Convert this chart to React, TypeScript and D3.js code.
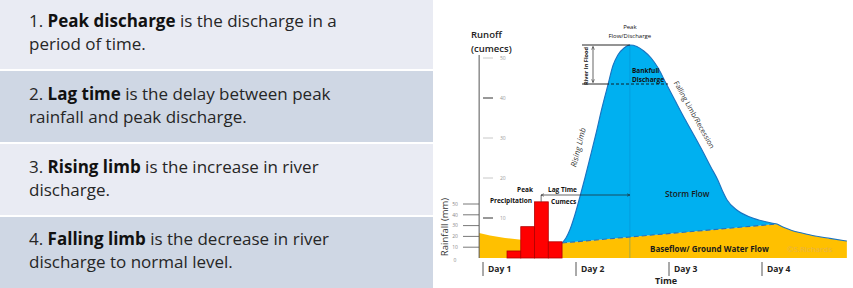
import React from 'react';
import * as d3 from 'd3';

// left panel definitions
const defNumbers = ['1.', '2.', '3.', '4.'];
const defTerms = ['Peak discharge', 'Lag time', 'Rising limb', 'Falling limb'];
const defFirstLine = [' is the discharge in a', ' is the delay between peak', ' is the increase in river', ' is the decrease in river'];
const defSecondLine = ['period of time.', 'rainfall and peak discharge.', 'discharge.', 'discharge to normal level.'];

// hydrograph data (time in hours from start of Day 1, runoff in cumecs)
const dayTicks = [0, 24, 48, 72];
const dayLabels = ['Day 1', 'Day 2', 'Day 3', 'Day 4'];
const runoffTicks = [10, 20, 30, 40, 50];
const rainTicks = [0, 10, 20, 30, 40, 50];

const rainPeriods = ['p1', 'p2', 'p3', 'p4'];
const rainMm = [6.5, 29, 52, 15];

const baseflowHours = [-1, 1.8, 5.7, 9.3, 14.7, 20.4, 75.9, 77.7, 79.7, 82.3, 85.7, 89.5, 93.9];
const baseflowCumecs = [6.25, 5.6, 5.0, 4.6, 4.1, 3.75, 8.5, 7.6, 6.9, 6.25, 5.5, 4.9, 4.25];

const stormHours = [20.4, 21.4, 22.5, 23.7, 25.0, 26.3, 27.6, 29.2, 30.7, 32.3, 33.5, 34.8, 36.4, 37.9, 39.7, 41.5, 43.4, 45.2, 47.2, 49.5, 52.1, 54.7, 56.8, 58.8, 60.6, 61.7, 63.0, 65.5, 68.9, 73.3, 75.9];
const stormCumecs = [3.75, 5.0, 7.25, 10.75, 15.25, 20, 25, 31.25, 37.5, 43.5, 48, 50.75, 52.5, 53.25, 52.9, 51.75, 50, 47.5, 43.75, 39.5, 34.75, 30.25, 26.5, 22.75, 19.5, 17, 14.5, 12, 10.25, 9, 8.5];

const peakHour = 37.9;
const peakCumecs = 53.25;
const bankfullCumecs = 43.5;
const peakRainHour = 15;

const font = "'Open Sans', sans-serif";

const App: React.FC = () => {
    // scales
    const x = d3.scaleLinear().domain([0, 24]).range([483, 576]);
    const yRun = d3.scaleLinear().domain([0, 50]).range([258, 58]);
    const yRain = d3.scaleLinear().domain([0, 50]).range([258, 204]);
    const xBar = d3.scaleBand().domain(rainPeriods).range([x(6.2), x(20.4)]).padding(0);

    const axisX = x(-1);
    const base = baseflowHours.map((h, i) => [h, baseflowCumecs[i]] as [number, number]);
    const storm = stormHours.map((h, i) => [h, stormCumecs[i]] as [number, number]);
    const tailStart = baseflowHours.indexOf(75.9);
    const tail = base.slice(tailStart);

    const baseArea = d3.area<[number, number]>()
        .x((d) => x(d[0]))
        .y0(yRun(0))
        .y1((d) => yRun(d[1]));
    const curve = d3.line<[number, number]>()
        .x((d) => x(d[0]))
        .y((d) => yRun(d[1]))
        .curve(d3.curveMonotoneX);
    const straight = d3.line<[number, number]>()
        .x((d) => x(d[0]))
        .y((d) => yRun(d[1]));

    const stormPath = (curve(storm) || '') + 'Z';
    const px = x(peakHour);
    const py = yRun(peakCumecs);
    const bankY = yRun(bankfullCumecs);

    const lineH = 23;
    const boxes = [
        { y: 0, h: 69, fill: '#e9ebf3', base: 27 },
        { y: 71, h: 71, fill: '#cfd7e4', base: 99.5 },
        { y: 144, h: 71, fill: '#e9ebf3', base: 173 },
        { y: 217, h: 71, fill: '#cfd7e4', base: 245 },
    ];

    const small = { fontFamily: font, fontSize: 6.5, fontWeight: 700, fill: '#111' } as const;

    return (
        <svg width={853} height={288} style={{ position: 'absolute', left: 0, top: 0 }}>
            <defs>
                <marker id="arr" viewBox="0 0 6 6" refX="5.5" refY="3" markerWidth="5" markerHeight="5" orient="auto-start-reverse">
                    <path d="M0,0.5 L5.5,3 L0,5.5" fill="none" stroke="#222" strokeWidth="0.9" />
                </marker>
            </defs>
            <rect width={853} height={288} fill="#fff" />

            {/* definitions panel */}
            {boxes.map((b, i) => (
                <g key={i}>
                    <rect x={0} y={b.y} width={433} height={b.h} fill={b.fill} />
                    <text x={29} y={b.base} fontFamily={font} fontSize={17} fill="#262626">
                        {defNumbers[i]} <tspan fontWeight={700} fill="#111">{defTerms[i]}</tspan>
                        {defFirstLine[i]}
                    </text>
                    <text x={29} y={b.base + lineH} fontFamily={font} fontSize={17} fill="#262626">
                        {defSecondLine[i]}
                    </text>
                </g>
            ))}

            {/* baseflow */}
            <path d={baseArea(base) || ''} fill="#ffc000" />
            {/* storm flow */}
            <path d={stormPath} fill="#00b0f0" />
            <line x1={px} x2={px} y1={py} y2={yRun(0)} stroke="#0a7fc0" strokeWidth={0.8} opacity={0.45} />
            <path d={straight([base[tailStart - 1], base[tailStart]]) || ''} fill="none" stroke="#2a6fb5" strokeWidth={1.1} strokeDasharray="5,3" />
            <path d={curve(storm) || ''} fill="none" stroke="#1a72c0" strokeWidth={1.1} />
            <path d={curve(tail) || ''} fill="none" stroke="#1a72c0" strokeWidth={1.1} />

            {/* rainfall bars */}
            {rainPeriods.map((p, i) => (
                <rect key={p} x={xBar(p)!} y={yRain(rainMm[i])} width={xBar.bandwidth()} height={yRain(0) - yRain(rainMm[i])}
                    fill="#ff0000" stroke="#b00000" strokeWidth={0.8} />
            ))}

            {/* runoff axis */}
            <line x1={axisX} x2={axisX} y1={55} y2={yRun(0)} stroke="#555" strokeWidth={1} />
            <text x={471} y={38} fontFamily={font} fontSize={9.5} fontWeight={600} fill="#222">Runoff</text>
            <text x={471} y={52} fontFamily={font} fontSize={9.5} fontWeight={600} fill="#222">(cumecs)</text>
            {runoffTicks.map((t) => (
                <g key={t}>
                    <line x1={483} x2={493} y1={yRun(t)} y2={yRun(t)} stroke={t === 10 || t === 40 ? '#333' : '#c8c8c8'} strokeWidth={1} />
                    <text x={500} y={yRun(t)} dy="0.35em" fontFamily={font} fontSize={5} fill="#999">{t}</text>
                </g>
            ))}

            {/* rainfall axis */}
            {rainTicks.map((t) => (
                <g key={t}>
                    {t > 0 && <line x1={463} x2={479} y1={yRain(t)} y2={yRain(t)} stroke="#555" strokeWidth={0.8} />}
                    <text x={455} y={yRain(t) + (t === 0 ? 2 : 0)} dy="0.35em" textAnchor="middle" fontFamily={font} fontSize={5} fill="#888">{t}</text>
                </g>
            ))}
            <text transform="translate(448,227) rotate(-90)" textAnchor="middle" fontFamily={font} fontSize={9.5} fill="#333">Rainfall (mm)</text>

            {/* time axis */}
            {dayTicks.map((d, i) => (
                <g key={d}>
                    <line x1={x(d)} x2={x(d)} y1={262} y2={276} stroke="#555" strokeWidth={1} />
                    <text x={x(d) + 5} y={272} fontFamily={font} fontSize={8.5} fontWeight={700} fill="#222">{dayLabels[i]}</text>
                </g>
            ))}
            <text x={655} y={284} fontFamily={font} fontSize={9} fontWeight={700} fill="#222">Time</text>

            {/* peak flow annotation */}
            <text x={px} y={29} textAnchor="middle" fontFamily={font} fontSize={6} fill="#111">Peak</text>
            <text x={px} y={38} textAnchor="middle" fontFamily={font} fontSize={6} fill="#111">Flow/Discharge</text>
            <line x1={582} x2={px} y1={py} y2={py} stroke="#111" strokeWidth={0.9} />
            <line x1={582} x2={606} y1={bankY} y2={bankY} stroke="#111" strokeWidth={0.9} />
            <line x1={606} x2={668} y1={bankY} y2={bankY} stroke="#111" strokeWidth={0.9} strokeDasharray="3,2" />
            <line x1={593} x2={593} y1={py + 1.5} y2={bankY - 1.5} stroke="#222" strokeWidth={0.7} markerStart="url(#arr)" markerEnd="url(#arr)" />
            <text transform="translate(586,66) rotate(-90)" textAnchor="middle" dy="0.35em" {...small} fontSize={5.6}>River In Flood</text>
            <text x={632} y={73} {...small}>Bankfull</text>
            <text x={632} y={82} {...small}>Discharge</text>

            <text transform="translate(692,116) rotate(61)" textAnchor="middle" fontFamily={font} fontSize={7.2} fill="#333">Falling Limb/Recession</text>
            <text transform="translate(581,148) rotate(-76)" textAnchor="middle" fontFamily={font} fontSize={8} fontStyle="italic" fill="#333">Rising Limb</text>

            {/* lag time */}
            <text x={525} y={192} textAnchor="middle" {...small}>Peak</text>
            <text x={511} y={203} textAnchor="middle" {...small}>Precipitation</text>
            <line x1={x(peakRainHour)} x2={x(peakRainHour)} y1={195} y2={yRain(rainMm[2])} stroke="#333" strokeWidth={0.7} />
            <line x1={x(peakRainHour)} x2={px} y1={195} y2={195} stroke="#222" strokeWidth={0.7} markerStart="url(#arr)" markerEnd="url(#arr)" />
            <text x={548} y={192} {...small}>Lag Time</text>
            <text x={551} y={204} {...small}>Cumecs</text>

            <text x={665} y={197} fontFamily={font} fontSize={8.2} fontWeight={600} fill="#1a1a1a">Storm Flow</text>
            <text x={650} y={252} fontFamily={font} fontSize={8} fontWeight={700} fill="#1a1a1a">Baseflow/ Ground Water Flow</text>
            <text x={787} y={252} fontFamily={font} fontSize={8} fill="#e9b347">©S.Richards</text>
        </svg>
    );
};

export default App;
